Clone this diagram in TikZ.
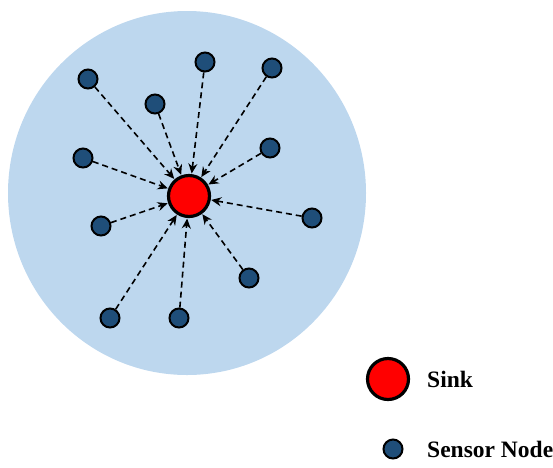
\documentclass[tikz,border=0pt]{standalone}
\usepackage{fontspec}
\setmainfont{Liberation Serif}
\usetikzlibrary{arrows.meta}
\definecolor{area}{RGB}{189,215,238}
\definecolor{sensorblue}{RGB}{31,78,121}
\begin{document}
\begin{tikzpicture}[x=1pt,y=-1pt,
  sensor/.style={circle,draw=black,line width=2pt,fill=sensorblue,minimum size=19pt,inner sep=0pt},
  sink/.style={circle,draw=black,line width=3.2pt,fill=red,minimum size=41pt,inner sep=0pt},
  link/.style={dashed,dash pattern=on 6pt off 4pt,line width=1.6pt,-{Stealth[length=10pt,width=9pt]},shorten >=0.5pt},
  lbl/.style={anchor=west,font=\fontsize{23.5}{26}\selectfont\bfseries,inner sep=0pt}]
\useasboundingbox (0,0) rectangle (553,467);
\fill[area] (187,193) ellipse [x radius=179, y radius=182];
\node[sink] (s) at (189,196) {};
\foreach \n/\x/\y in {a/88/79, b/205/62, c/272/68, d/155/104, e/83/158, f/270/148, g/312/218, h/101/226, i/249/278, j/110/318, k/179/318}
  \node[sensor] (\n) at (\x,\y) {};
\foreach \n in {a,b,c,d,e,f,g,h,i,j,k}
  \draw[link] (\n) -- (s);
\node[sink] (ls) at (388,379) {};
\node[lbl] (lst) at (427,379) {Sink};
\node[sensor] (ln) at (393,449) {};
\node[lbl] (lnt) at (427,449) {Sensor Node};
\end{tikzpicture}
\end{document}
